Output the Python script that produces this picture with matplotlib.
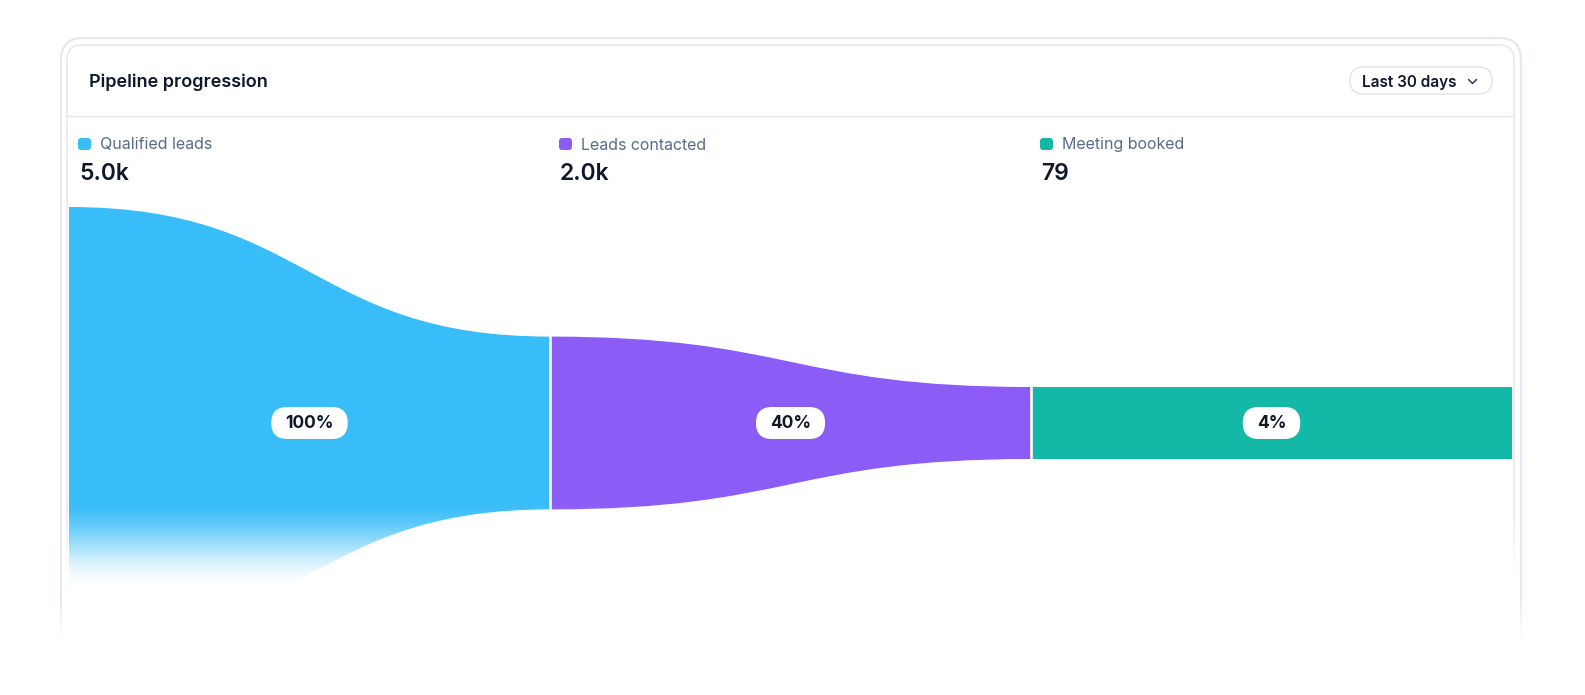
"""Pipeline progression card: a three-step funnel drawn as smooth bands."""
import matplotlib

matplotlib.use("Agg")
import numpy as np  # noqa: E402
import matplotlib.pyplot as plt  # noqa: E402
from matplotlib.patches import FancyBboxPatch, PathPatch  # noqa: E402
from matplotlib.path import Path  # noqa: E402
from matplotlib.transforms import IdentityTransform  # noqa: E402

# ---- data ----
title = "Pipeline progression"
period = "Last 30 days"
steps = ["Qualified leads", "Leads contacted", "Meeting booked"]
counts = [5000, 2000, 79]
count_labels = ["5.0k", "2.0k", "79"]
colors = ["#38bdf8", "#8b5cf6", "#14b8a6"]

W, H = 1585, 695
DPI = 100
INK = "#0f172a"
MUTED = "#5b6b85"
LINE = "#e2e8f0"

plt.rcParams["font.family"] = ["Inter", "DejaVu Sans"]

fig = plt.figure(figsize=(W / DPI, H / DPI), dpi=DPI)
fig.patch.set_facecolor("white")

# pixel-space axes for the card chrome (y grows downward)
base = fig.add_axes((0, 0, 1, 1))
base.set_xlim(0, W)
base.set_ylim(H, 0)
base.axis("off")

# outer ring + card
base.add_patch(FancyBboxPatch((61, 38), 1521 - 61, 720 - 38,
                              boxstyle="round,pad=0,rounding_size=22",
                              fc="none", ec="#e3e8f1", lw=1.6))
base.add_patch(FancyBboxPatch((67, 45), 1514 - 67, 720 - 45,
                              boxstyle="round,pad=0,rounding_size=15",
                              fc="white", ec=LINE, lw=1.0))
base.plot([67, 1514], [116, 116], color=LINE, lw=1.0)

base.text(89, 82.5, title, fontsize=13, fontweight="semibold", color=INK,
          ha="left", va="center")

# period selector
base.add_patch(FancyBboxPatch((1350, 67), 142, 27,
                              boxstyle="round,pad=0,rounding_size=13.5",
                              fc="white", ec="#dfe3ea", lw=1.0))
base.text(1362, 82, period, fontsize=11, fontweight="semibold", color=INK,
          ha="left", va="center")
base.plot([1468.5, 1472.5, 1476.5], [79.5, 83.5, 79.5], color="#334155",
          lw=1.1, solid_capstyle="round", solid_joinstyle="round")

# ---- funnel ----
flow_top, flow_h = 207, 432
flow = fig.add_axes((69 / W, (H - flow_top - flow_h) / H, (1512 - 69) / W, flow_h / H))
flow.set_facecolor("none")
flow.axis("off")
n = len(counts)
vmax = max(counts)
flow.set_xlim(0, n)
flow.set_ylim(-vmax / 2, vmax / 2)

# small steps keep a minimum band thickness so they stay readable
floor = vmax / 6
half = [max(c, floor) / 2 for c in counts]

for i in range(n):
    hl = half[i]
    hr = half[i + 1] if i + 1 < n else half[i]
    xm = i + 0.5
    verts = [(i, hl), (xm, hl), (xm, hr), (i + 1, hr),
             (i + 1, -hr), (xm, -hr), (xm, -hl), (i, -hl), (i, hl)]
    codes = [Path.MOVETO, Path.CURVE4, Path.CURVE4, Path.CURVE4,
             Path.LINETO, Path.CURVE4, Path.CURVE4, Path.CURVE4, Path.CLOSEPOLY]
    flow.add_patch(PathPatch(Path(verts, codes), fc=colors[i], ec="none", zorder=1))

for k in range(1, n):
    flow.axvline(k, color="white", lw=1.9, zorder=2)

fig.canvas.draw()
renderer = fig.canvas.get_renderer()

prev = None
for i, c in enumerate(counts):
    pct = 100 if prev is None else round(c / prev * 100)
    prev = c
    t = flow.text(i + 0.5, 0, f"{pct}%", fontsize=12.5, fontweight="bold",
                  color=INK, ha="center", va="center", zorder=6)
    bb = t.get_window_extent(renderer)
    cx, cy = flow.transData.transform((i + 0.5, 0))
    ph = 32
    pw = bb.width + 28
    flow.add_patch(FancyBboxPatch((cx - pw / 2, cy - ph / 2), pw, ph,
                                  boxstyle=f"round,pad=0,rounding_size={ph / 2}",
                                  fc="white", ec="none", zorder=5,
                                  transform=IdentityTransform()))

# legend headers aligned with each step
for i, (name, lab, col) in enumerate(zip(steps, count_labels, colors)):
    px = flow.transData.transform((i, 0))[0] + 9
    base.add_patch(FancyBboxPatch((px, 138), 13, 12,
                                  boxstyle="round,pad=0,rounding_size=3",
                                  fc=col, ec="none"))
    base.text(px + 22, 145, name, fontsize=11.5, color=MUTED,
              ha="left", va="center")
    base.text(px + 1, 174.5, lab, fontsize=16.5, fontweight="semibold", color=INK,
              ha="left", va="center")

# ---- bottom fades ----
over = fig.add_axes((0, 0, 1, 1), zorder=5)
over.set_facecolor("none")
over.axis("off")


def _fade(ax, x0, x1, y0, y1):
    ys = np.linspace(0, 1, 200)
    a = ys * ys * (3 - 2 * ys)
    img = np.ones((200, 1, 4))
    img[:, 0, 3] = a
    ax.imshow(img, extent=(x0, x1, y1, y0), origin="upper", aspect="auto",
              interpolation="bilinear", zorder=1)


_fade(over, 62, 1519, 498, 588)
over.add_patch(plt.Rectangle((62, 587), 1519 - 62, 60, fc="white", ec="none", zorder=2))
_fade(over, 0, W, 588, 645)
over.add_patch(plt.Rectangle((0, 644), W, H - 644, fc="white", ec="none", zorder=2))
over.set_xlim(0, W)
over.set_ylim(H, 0)

fig.savefig("out.png", dpi=DPI, facecolor="white")
plt.close(fig)
